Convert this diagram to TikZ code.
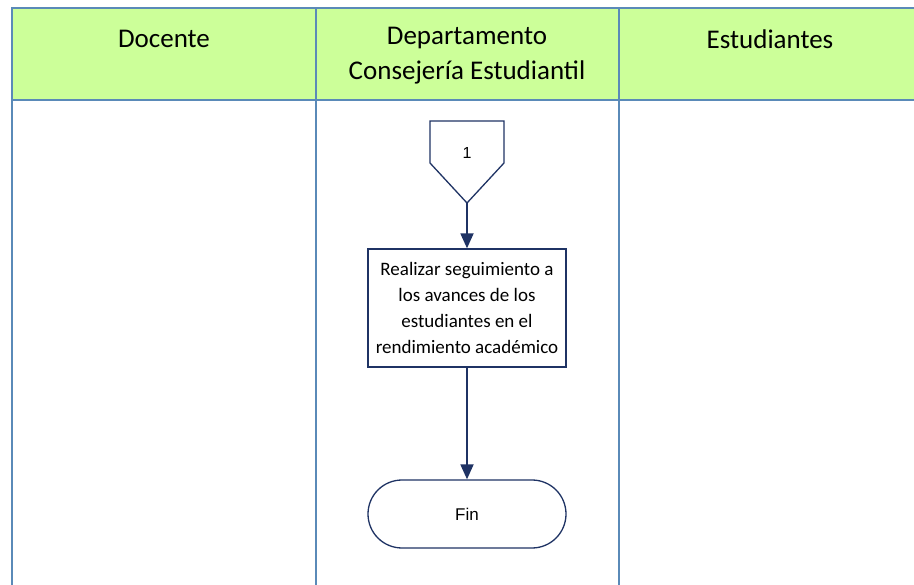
\documentclass[tikz,border=0pt]{standalone}
\usepackage{fontspec}
\setmainfont{Carlito}
\newfontfamily\arialf{Liberation Sans}
\usetikzlibrary{arrows.meta}
\definecolor{hdrfill}{HTML}{CCFF99}
\definecolor{lanecol}{HTML}{5A8AB8}
\definecolor{navy}{HTML}{1F3364}
\tikzset{
  lane/.style={draw=lanecol, line width=1.6pt},
  hdrtext/.style={font=\fontsize{27}{35}\selectfont, align=center, text=black},
  procbox/.style={draw=navy, line width=1.3pt, fill=white, minimum width=198pt, minimum height=118pt, inner sep=0pt, align=center, font=\fontsize{19}{26.3}\selectfont},
  termbox/.style={draw=navy, line width=1.3pt, fill=white, rounded corners=34pt, minimum width=198pt, minimum height=68pt, inner sep=0pt, font=\arialf\fontsize{17}{19}\selectfont},
  flow/.style={draw=navy, line width=1.8pt, -{Triangle[length=15pt,width=13pt]}}
}
\begin{document}
\begin{tikzpicture}[x=1pt,y=-1pt]
\useasboundingbox (0,0) rectangle (914,585);
\fill[white] (0,0) rectangle (914,585);
% header
\fill[hdrfill] (12,8) rectangle (920,100);
\draw[lane] (920,8) -- (12,8) -- (12,585);
\draw[lane] (12,100) -- (920,100);
\draw[lane] (316,8) -- (316,585);
\draw[lane] (619,8) -- (619,585);
\node[hdrtext] (h1) at (164,39) {Docente};
\node[hdrtext] (h2) at (467,56) {Departamento\\Consejería Estudiantil};
\node[hdrtext] (h3) at (770,39) {Estudiantes};
% off-page connector
\draw[navy, line width=1.3pt, fill=white] (430,121) -- (504,121) -- (504,163) -- (467,203) -- (430,163) -- cycle;
\coordinate (c1) at (467,203);
\node[font=\arialf\fontsize{16}{18}\selectfont] (one) at (467,153) {1};
% process
\node[procbox] (p1) at (467,308) {Realizar seguimiento a\\los avances de los\\estudiantes en el\\rendimiento académico};
% terminator
\node[termbox] (fin) at (467,514) {Fin};
\draw[flow] (c1) -- (p1.north);
\draw[flow] (p1.south) -- (fin.north);
\end{tikzpicture}
\end{document}
